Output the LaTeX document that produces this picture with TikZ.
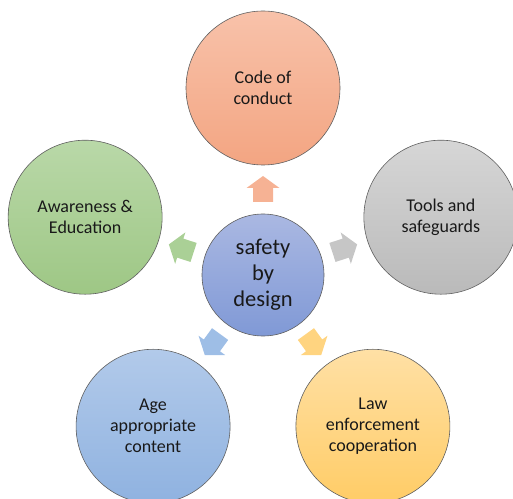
\documentclass[tikz,border=0pt]{standalone}
\usepackage{fontspec}
\setmainfont{Carlito}
\usetikzlibrary{calc}
\definecolor{txt}{RGB}{25,25,25}
\definecolor{edge}{RGB}{95,95,95}
\definecolor{cT}{RGB}{170,184,226}
\definecolor{cB}{RGB}{128,153,214}
\definecolor{oT}{RGB}{248,194,170}
\definecolor{oB}{RGB}{243,165,130}
\definecolor{gT}{RGB}{185,216,168}
\definecolor{gB}{RGB}{158,199,133}
\definecolor{yT}{RGB}{214,214,214}
\definecolor{yB}{RGB}{186,186,186}
\definecolor{bT}{RGB}{178,202,234}
\definecolor{bB}{RGB}{143,178,224}
\definecolor{lT}{RGB}{255,224,165}
\definecolor{lB}{RGB}{255,204,102}
\definecolor{aO}{RGB}{246,178,148}
\definecolor{aG}{RGB}{170,208,150}
\definecolor{aY}{RGB}{198,198,198}
\definecolor{aB}{RGB}{158,190,230}
\definecolor{aL}{RGB}{255,212,128}
\begin{document}
\begin{tikzpicture}[x=1pt,y=1pt,
  bubble/.style={circle, minimum size=154pt, inner sep=0pt, draw=edge, line width=0.6pt,
    align=center, text=txt, font=\fontsize{18}{21}\selectfont},
  hub/.style={circle, minimum size=122pt, inner sep=0pt, draw=edge, line width=0.6pt,
    align=center, text=txt, font=\fontsize{22.5}{26}\selectfont},
  blockarrow/.style={draw=none}]
\useasboundingbox (0,0) rectangle (513,498);
\node[hub, top color=cT, bottom color=cB] (c) at (263,223) {safety\\by\\design};
\node[bubble, top color=oT, bottom color=oB] (n1) at ($(c)+(90:187)$) {Code of\\conduct};
\node[bubble, top color=yT, bottom color=yB] (n2) at ($(c)+(18:187)$) {Tools and\\safeguards};
\node[bubble, top color=lT, bottom color=lB] (n3) at ($(c)+(-54:187)$) {Law\\enforcement\\cooperation};
\node[bubble, top color=bT, bottom color=bB] (n4) at ($(c)+(-126:187)$) {Age\\appropriate\\content};
\node[bubble, top color=gT, bottom color=gB] (n5) at ($(c)+(162:187)$) {Awareness \&\\Education};
\foreach \a/\col in {90/aO,18/aY,-54/aL,-126/aB,162/aG}{
  \fill[blockarrow, \col, shift={(c.center)}, rotate=\a]
    (73,-10) -- (87,-10) -- (87,-16.5) -- (99,0) -- (87,16.5) -- (87,10) -- (73,10) -- cycle;
}
\end{tikzpicture}
\end{document}
